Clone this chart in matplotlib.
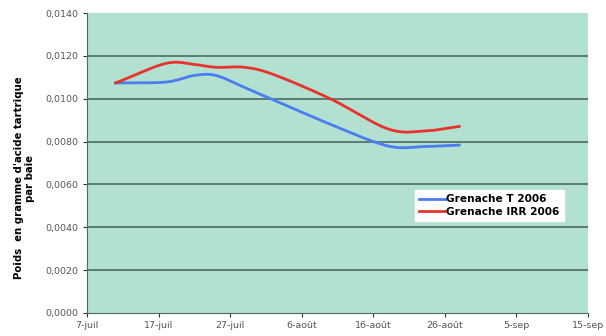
#! /usr/bin/env python

import datetime as dt
import numpy as np
import matplotlib
matplotlib.use("Agg")
import matplotlib.pyplot as plt
import matplotlib.dates as mdates

# sampling dates (2006) and tartaric acid weight per berry (g)
dates = ["2006-07-11", "2006-07-18", "2006-07-22", "2006-07-25", "2006-07-29",
         "2006-08-02", "2006-08-10", "2006-08-18", "2006-08-23", "2006-08-28"]
grenache_t = [0.01074, 0.01078, 0.01109, 0.01109, 0.01053,
              0.00996, 0.00881, 0.00780, 0.00777, 0.00784]
grenache_irr = [0.01074, 0.01165, 0.01160, 0.01147, 0.01147,
                0.01114, 0.01000, 0.00860, 0.00849, 0.00871]

tick_dates = ["2006-07-07", "2006-07-17", "2006-07-27", "2006-08-06",
              "2006-08-16", "2006-08-26", "2006-09-05", "2006-09-15"]
tick_labels = ["7-juil", "17-juil", "27-juil", "6-août", "16-août", "26-août", "5-sep", "15-sep"]
y_ticks = [0.0, 0.002, 0.004, 0.006, 0.008, 0.010, 0.012, 0.014]


def smooth(x, y, n=20):
	# Catmull-Rom curve through the points, like a smoothed Excel line
	x = np.asarray(x, float)
	y = np.asarray(y, float)
	px = np.concatenate([[2*x[0]-x[1]], x, [2*x[-1]-x[-2]]])
	py = np.concatenate([[2*y[0]-y[1]], y, [2*y[-1]-y[-2]]])
	xs, ys = [], []
	t = np.linspace(0, 1, n, endpoint=False)
	for i in range(1, len(px) - 2):
		for p, out in ((px, xs), (py, ys)):
			p0, p1, p2, p3 = p[i-1], p[i], p[i+1], p[i+2]
			out.extend(0.5*((2*p1) + (-p0+p2)*t + (2*p0-5*p1+4*p2-p3)*t**2
			                + (-p0+3*p1-3*p2+p3)*t**3))
	xs.append(x[-1])
	ys.append(y[-1])
	return np.array(xs), np.array(ys)


x = mdates.date2num([dt.datetime.strptime(d, "%Y-%m-%d") for d in dates])
xt = mdates.date2num([dt.datetime.strptime(d, "%Y-%m-%d") for d in tick_dates])

fig = plt.figure(figsize=(6.06, 3.36), dpi=100)
ax = fig.add_axes([0.1436, 0.0685, 0.8267, 0.8925])
ax.set_facecolor("#b3e1d1")

for val in y_ticks[1:-1]:
	ax.axhline(val, color="#4f6a62", lw=1.2, zorder=1)

sx, sy = smooth(x, grenache_t)
ax.plot(sx, sy, color="#4a7df2", lw=2, label="Grenache T 2006", zorder=3)
sx, sy = smooth(x, grenache_irr)
ax.plot(sx, sy, color="#e8322c", lw=2, label="Grenache IRR 2006", zorder=3)

ax.set_xlim(xt[0], xt[-1])
ax.set_ylim(0, 0.014)
ax.set_xticks(xt)
ax.set_xticklabels(tick_labels)
ax.set_yticks(y_ticks)
ax.set_yticklabels([("%.4f" % v).replace(".", ",") for v in y_ticks])
ax.tick_params(labelsize=6.8, colors="#333333", length=3, width=0.8, pad=3)
for lab in ax.get_xticklabels() + ax.get_yticklabels():
	lab.set_color("#555555")

ax.spines["top"].set_visible(False)
ax.spines["right"].set_visible(False)
ax.spines["left"].set_color("#4f6a62")
ax.spines["bottom"].set_color("#4f6a62")

ax.set_ylabel("Poids  en gramme d'acide tartrique\npar baie", fontsize=7.3,
              fontweight="bold", linespacing=1.1)
ax.yaxis.set_label_coords(-0.104, 0.45)

leg = ax.legend(loc="upper left", bbox_to_anchor=(0.655, 0.41), fontsize=7.6,
                frameon=True, fancybox=False, borderpad=0.4, handlelength=2.4,
                handletextpad=0.15, labelspacing=0.25, borderaxespad=0)
leg.get_frame().set_facecolor("white")
leg.get_frame().set_edgecolor("white")
leg.get_frame().set_alpha(1)
for t in leg.get_texts():
	t.set_fontweight("bold")

plt.savefig("out.png", dpi=100)
